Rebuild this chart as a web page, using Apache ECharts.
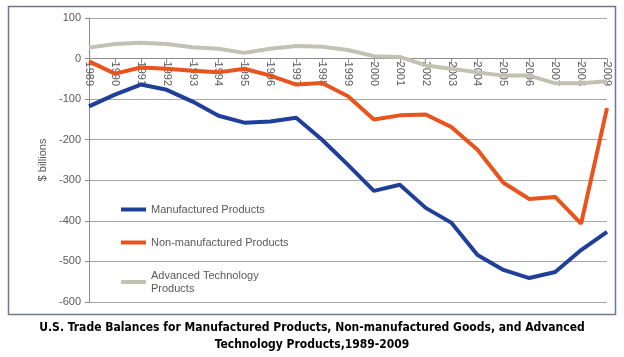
<!DOCTYPE html>
<html><head><meta charset="utf-8">
<script src="https://cdn.jsdelivr.net/npm/echarts@6/dist/echarts.min.js"></script>
<style>html,body{margin:0;padding:0;background:#fff}#c{width:624px;height:357px}</style>
</head><body><div id="c"></div>
<script>
var years = ['1989','1990','1991','1992','1993','1994','1995','1996','1997','1998','1999','2000','2001','2002','2003','2004','2005','2006','2007','2008','2009'];
var manufactured = [-118,-89,-64,-77,-106,-141,-158,-155,-146,-200,-262,-326,-311,-368,-405,-484,-521,-541,-526,-472,-427];
var nonManufactured = [-7,-37,-22,-25,-30,-34,-25,-42,-64,-60,-93,-150,-140,-138,-169,-225,-306,-346,-341,-407,-122];
var advancedTech = [27,36,39,36,28,24,14,24,31,29,21,6,4,-17,-25,-34,-42,-42,-61,-61,-56];
var yTicks = {min:-600, max:100, step:100};
var seriesNames = ['Manufactured Products','Non-manufactured Products','Advanced Technology Products'];

var chart = echarts.init(document.getElementById('c'));
var lbl = {color:'#595959', fontFamily:'Liberation Sans', fontSize:11};
var gridTop = 18, gridBottom = 55, plotH = 357 - gridTop - gridBottom;
var zeroOffset = -plotH * (0 - yTicks.min) / (yTicks.max - yTicks.min);
chart.setOption({
  animation:false,
  graphic:[
    {type:'rect', shape:{x:8.5,y:6.5,width:607,height:308}, style:{fill:'none', stroke:'#6a7894', lineWidth:1.5}, z:-1},
    {type:'text', left:'center', top:319, style:{text:'U.S. Trade Balances for Manufactured Products, Non-manufactured Goods, and Advanced\nTechnology Products,1989-2009',
      fill:'#000', font:"bold 12px 'Liberation Sans Narrow','DejaVu Sans Condensed','Roboto',sans-serif", textAlign:'center', lineHeight:17}}
  ],
  grid:{left:89, right:17, top:gridTop, bottom:gridBottom},
  legend:{orient:'vertical', left:116, top:198, itemGap:20, itemWidth:25, itemHeight:4, icon:'rect',
    textStyle:{color:'#595959', fontFamily:'Liberation Sans', fontSize:11, lineHeight:13},
    formatter:function(n){return n==='Advanced Technology Products'?'Advanced Technology\nProducts':n;},
    data:seriesNames},
  xAxis:{type:'category', data:years, boundaryGap:false, position:'bottom', offset:zeroOffset,
    axisLine:{onZero:false, lineStyle:{color:'#8c8c8c'}},
    axisTick:{show:true, length:5, lineStyle:{color:'#8c8c8c'}},
    axisLabel:Object.assign({rotate:-90, margin:3, interval:0}, lbl),
    splitLine:{show:false}},
  yAxis:{type:'value', min:yTicks.min, max:yTicks.max, interval:yTicks.step,
    name:'$ billions', nameLocation:'middle', nameRotate:90, nameGap:40,
    nameTextStyle:{color:'#595959', fontFamily:'Liberation Sans', fontSize:11},
    axisLine:{show:true, lineStyle:{color:'#8c8c8c'}},
    axisTick:{show:true, length:4, lineStyle:{color:'#8c8c8c'}},
    axisLabel:Object.assign({margin:8}, lbl),
    splitLine:{lineStyle:{color:'#a6a6a6'}}},
  series:[
    {name:seriesNames[0], type:'line', data:manufactured, symbol:'none', lineStyle:{width:4, color:'#1f3f99'}, itemStyle:{color:'#1f3f99'}, z:3},
    {name:seriesNames[1], type:'line', data:nonManufactured, symbol:'none', lineStyle:{width:4, color:'#e8541e'}, itemStyle:{color:'#e8541e'}, z:2},
    {name:seriesNames[2], type:'line', data:advancedTech, symbol:'none', lineStyle:{width:4, color:'#c2c2b2'}, itemStyle:{color:'#c2c2b2'}, z:1}
  ]
});
</script></body></html>
